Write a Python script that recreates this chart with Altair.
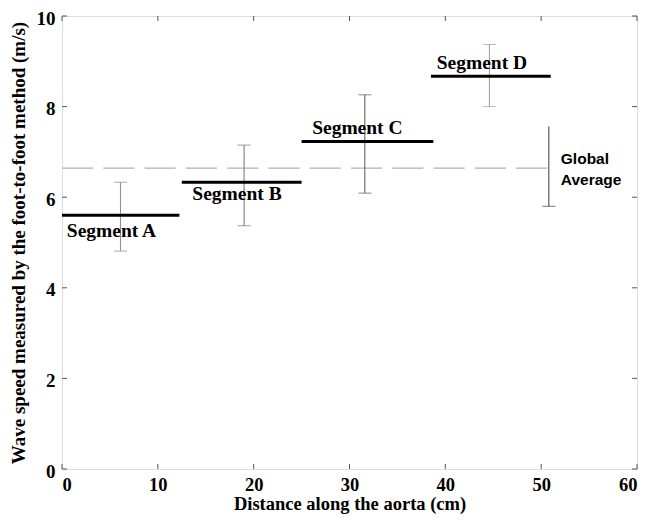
import altair as alt
import pandas as pd

# --- data ---
segments = ["Segment A", "Segment B", "Segment C", "Segment D"]
seg_start = [0.0, 12.5, 25.0, 38.5]
seg_end = [12.25, 25.0, 38.75, 51.0]
seg_speed = [5.60, 6.33, 7.23, 8.67]

err_x = [6.1, 19.0, 31.6, 44.6, 50.8]
err_low = [4.81, 5.37, 6.09, 8.00, 5.80]
err_high = [6.33, 7.15, 8.26, 9.37, 7.56]
err_color = ["#8a8a8a", "#707070", "#555555", "#9c9c9c", "#3a3a3a"]

global_avg = 6.64
global_end = 50.8

label_x = [0.5, 13.6, 26.1, 39.1]
label_y = [5.25, 6.07, 7.53, 8.96]
global_label = ["Global", "Average"]
global_label_x = [52.05, 52.05]
global_label_y = [6.84, 6.38]

x_ticks = [0, 10, 20, 30, 40, 50, 60]
y_ticks = [0, 2, 4, 6, 8, 10]

W, H = 575, 453
SERIF = "Liberation Serif"
SANS = "Liberation Sans"

seg_df = pd.DataFrame({"name": segments, "x0": seg_start, "x1": seg_end, "v": seg_speed})
err_df = pd.DataFrame({"x": err_x, "lo": err_low, "hi": err_high, "c": err_color})
lab_df = pd.DataFrame({"t": segments, "x": label_x, "y": label_y})
glab_df = pd.DataFrame({"t": global_label, "x": global_label_x, "y": global_label_y})
avg_df = pd.DataFrame({"x0": [0.0], "x1": [global_end], "v": [global_avg]})
xt_df = pd.DataFrame({"xt": x_ticks})
yt_df = pd.DataFrame({"yt": y_ticks})

xscale = alt.Scale(domain=[0, 60], nice=False, zero=False)
yscale = alt.Scale(domain=[0, 10], nice=False, zero=False)

xaxis = alt.Axis(values=x_ticks, format="d", grid=False, domain=False, tickSize=0,
                 labelFont=SERIF, labelFontSize=18.5, labelFontWeight="bold", labelColor="black",
                 labelPadding=6, title="Distance along the aorta (cm)", titleFont=SERIF,
                 titleFontSize=18.5, titleFontWeight="bold", titleColor="black", titlePadding=1)
yaxis = alt.Axis(values=y_ticks, format="d", grid=False, domain=False, tickSize=0,
                 labelFont=SERIF, labelFontSize=19, labelFontWeight="bold", labelColor="black",
                 labelPadding=7, labelOffset=2,
                 title="Wave speed measured by the foot-to-foot method (m/s)",
                 titleFont=SERIF, titleFontSize=19, titleFontWeight="bold", titleColor="black",
                 titlePadding=8)

base_x = alt.X("x0:Q", scale=xscale, axis=xaxis)
base_y = alt.Y("v:Q", scale=yscale, axis=yaxis)

avg_line = alt.Chart(avg_df).mark_rule(color="#b0b0b0", strokeWidth=1.2, strokeDash=[31, 10.3]).encode(
    x=base_x, x2="x1:Q", y=base_y)

err_rule = alt.Chart(err_df).mark_rule(strokeWidth=1).encode(
    x=alt.X("x:Q", scale=xscale), y=alt.Y("lo:Q", scale=yscale), y2="hi:Q",
    color=alt.Color("c:N", scale=None))
cap_lo = alt.Chart(err_df).mark_tick(orient="horizontal", size=13, thickness=1).encode(
    x=alt.X("x:Q", scale=xscale), y=alt.Y("lo:Q", scale=yscale), color=alt.Color("c:N", scale=None))
cap_hi = alt.Chart(err_df.iloc[:4]).mark_tick(orient="horizontal", size=13, thickness=1).encode(
    x=alt.X("x:Q", scale=xscale), y=alt.Y("hi:Q", scale=yscale), color=alt.Color("c:N", scale=None))

seg_lines = alt.Chart(seg_df).mark_rule(color="black", strokeWidth=3).encode(
    x=alt.X("x0:Q", scale=xscale), x2="x1:Q", y=alt.Y("v:Q", scale=yscale))

seg_text = alt.Chart(lab_df).mark_text(align="left", baseline="middle", font=SERIF, fontSize=19.5,
                                       fontWeight="bold", color="black").encode(
    x=alt.X("x:Q", scale=xscale), y=alt.Y("y:Q", scale=yscale), text="t:N")
glob_text = alt.Chart(glab_df).mark_text(align="left", baseline="middle", font=SANS, fontSize=15.5,
                                         fontWeight="bold", color="black").encode(
    x=alt.X("x:Q", scale=xscale), y=alt.Y("y:Q", scale=yscale), text="t:N")

TICK = 5
tick_color = "#555555"
xt_bottom = alt.Chart(xt_df).mark_rule(color=tick_color, strokeWidth=1).encode(
    x=alt.X("xt:Q", scale=xscale), y=alt.value(H), y2=alt.value(H - TICK))
xt_top = alt.Chart(xt_df).mark_rule(color=tick_color, strokeWidth=1).encode(
    x=alt.X("xt:Q", scale=xscale), y=alt.value(0), y2=alt.value(TICK))
yt_left = alt.Chart(yt_df).mark_rule(color=tick_color, strokeWidth=1).encode(
    y=alt.Y("yt:Q", scale=yscale), x=alt.value(0), x2=alt.value(TICK))
yt_right = alt.Chart(yt_df).mark_rule(color=tick_color, strokeWidth=1).encode(
    y=alt.Y("yt:Q", scale=yscale), x=alt.value(W), x2=alt.value(W - TICK))

chart = alt.layer(
    avg_line, xt_bottom, xt_top, yt_left, yt_right,
    err_rule, cap_lo, cap_hi, seg_lines, seg_text, glob_text
).properties(
    width=W, height=H,
    autosize=alt.AutoSizeParams(type="none"),
    padding={"left": 54, "top": 8, "right": 2, "bottom": 45},
).configure_view(stroke="#7a7a7a", strokeWidth=1).configure(background="white")

chart.save("out.html", embed_options={"renderer": "svg", "actions": False})
